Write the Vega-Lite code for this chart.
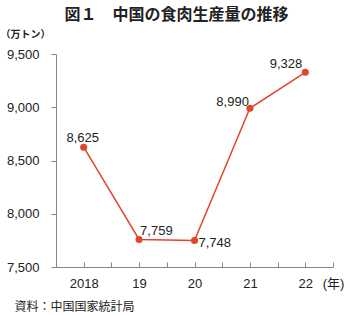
{
  "$schema": "https://vega.github.io/schema/vega-lite/v6.json",
  "autosize": "none",
  "width": 277,
  "height": 213,
  "padding": {"left": 56, "top": 54, "right": 17, "bottom": 48},
  "background": "white",
  "config": {"view": {"stroke": null}, "font": "Liberation Sans"},
  "title": {
    "text": "図１　中国の食肉生産量の推移",
    "font": "Noto Sans CJK JP",
    "fontSize": 16,
    "fontWeight": "bold",
    "color": "#222222",
    "anchor": "middle",
    "frame": "group",
    "dx": -18,
    "offset": 6
  },
  "data": {
    "values": [
      {"year": 2018, "value": 8625},
      {"year": 2019, "value": 7759},
      {"year": 2020, "value": 7748},
      {"year": 2021, "value": 8990},
      {"year": 2022, "value": 9328}
    ]
  },
  "encoding": {
    "x": {
      "field": "year",
      "type": "quantitative",
      "scale": {"domain": [2017.5, 2022.5], "nice": false, "zero": false},
      "axis": {
        "values": [2017.5, 2018, 2018.5, 2019, 2019.5, 2020, 2020.5, 2021, 2021.5, 2022, 2022.5],
        "labelExpr": "datum.value == 2022.5 ? '(年)' : datum.value % 1 != 0 ? '' : datum.value == 2018 ? '2018' : substring(toString(datum.value), 2)",
        "labelFlush": false,
        "labelOverlap": false,
        "labelBound": false,
        "labelFont": "Liberation Sans, Noto Sans CJK JP",
        "labelFontSize": 13,
        "labelColor": "#222222",
        "labelPadding": 15,
        "tickSize": -5,
        "tickColor": "#888888",
        "domainColor": "#888888",
        "grid": false,
        "title": "資料：中国国家統計局",
        "titleFont": "Noto Sans CJK JP",
        "titleFontSize": 12,
        "titleFontWeight": "normal",
        "titleColor": "#222222",
        "titleAnchor": "start",
        "titleAlign": "left",
        "titleBaseline": "middle",
        "titleX": -42,
        "titleY": 39
      }
    },
    "y": {
      "field": "value",
      "type": "quantitative",
      "scale": {"domain": [7500, 9500], "nice": false, "zero": false},
      "axis": {
        "values": [7500, 8000, 8500, 9000, 9500],
        "format": ",.0f",
        "labelFontSize": 13,
        "labelColor": "#222222",
        "labelPadding": 12,
        "tickSize": 5,
        "tickColor": "#888888",
        "domainColor": "#888888",
        "grid": false,
        "title": "（万トン）",
        "titleFont": "Noto Sans CJK JP",
        "titleFontSize": 10,
        "titleFontWeight": "bold",
        "titleColor": "#222222",
        "titleAngle": 0,
        "titleAlign": "left",
        "titleBaseline": "middle",
        "titleX": -56,
        "titleY": -20
      }
    }
  },
  "layer": [
    {"mark": {"type": "line", "color": "#E2452B", "strokeWidth": 1.5}},
    {"mark": {"type": "point", "filled": true, "color": "#E2452B", "size": 50, "opacity": 1}},
    {
      "transform": [{"filter": "datum.year == 2018"}],
      "mark": {"type": "text", "fontSize": 13, "color": "#222222", "align": "center", "baseline": "alphabetic", "dx": -1, "dy": -5},
      "encoding": {"text": {"field": "value", "type": "quantitative", "format": ","}}
    },
    {
      "transform": [{"filter": "datum.year == 2019"}],
      "mark": {"type": "text", "fontSize": 13, "color": "#222222", "align": "left", "baseline": "alphabetic", "dx": 1, "dy": -4},
      "encoding": {"text": {"field": "value", "type": "quantitative", "format": ","}}
    },
    {
      "transform": [{"filter": "datum.year == 2020"}],
      "mark": {"type": "text", "fontSize": 13, "color": "#222222", "align": "left", "baseline": "alphabetic", "dx": 4, "dy": 6},
      "encoding": {"text": {"field": "value", "type": "quantitative", "format": ","}}
    },
    {
      "transform": [{"filter": "datum.year == 2021"}],
      "mark": {"type": "text", "fontSize": 13, "color": "#222222", "align": "right", "baseline": "alphabetic", "dx": -1, "dy": -2},
      "encoding": {"text": {"field": "value", "type": "quantitative", "format": ","}}
    },
    {
      "transform": [{"filter": "datum.year == 2022"}],
      "mark": {"type": "text", "fontSize": 13, "color": "#222222", "align": "right", "baseline": "alphabetic", "dx": -3, "dy": -4},
      "encoding": {"text": {"field": "value", "type": "quantitative", "format": ","}}
    }
  ]
}
